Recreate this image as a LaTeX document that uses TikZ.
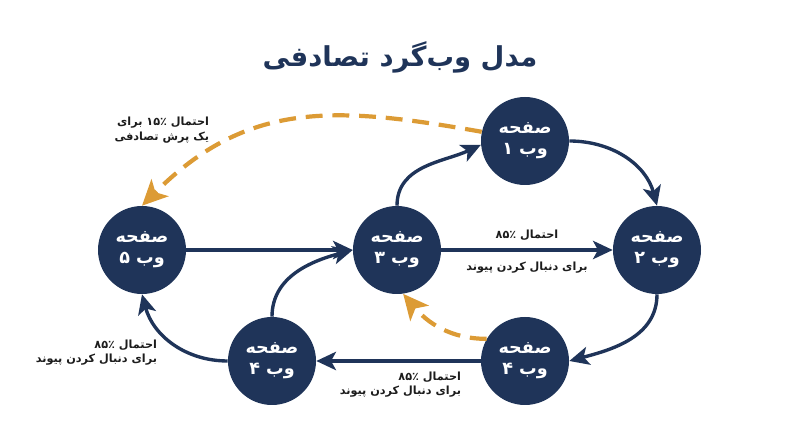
\documentclass[tikz,border=0pt]{standalone}
\usepackage{fontspec}
\usepackage{tikz}
\usetikzlibrary{arrows.meta}
\usepackage{xcolor}
\TeXXeTstate=1
\newfontfamily\farsi[Script=Arabic]{DejaVu Sans}
\newcommand{\fa}[1]{{\farsi\beginR #1\endR}}
\definecolor{navy}{HTML}{1F3459}
\definecolor{amber}{HTML}{DC9B35}
\definecolor{ink}{HTML}{1C1C1C}

\begin{document}
\begin{tikzpicture}[
  page/.style={circle, fill=navy, minimum size=2.2cm, inner sep=0pt, text=white, align=center,
    font=\farsi\bfseries\fontsize{12.5}{15}\selectfont},
  link/.style={draw=navy, line width=2.4pt, -{Stealth[length=14pt,width=13pt,inset=3.5pt]}},
  jump/.style={draw=amber, line width=3pt, dash pattern=on 12pt off 7pt,
    -{Stealth[length=18pt,width=17pt,inset=4.5pt]}},
  prob/.style={text=ink, font=\farsi\bfseries\fontsize{8}{10.5}\selectfont}
]
  \useasboundingbox (0,0) rectangle (20,11.175);

  % title
  \node[text=navy, font=\farsi\bfseries\fontsize{19.5}{24}\selectfont] (title) at (10,9.75)
    {\fa{مدل وب^^^^200cگرد تصادفی}};

  % web pages
  \node[page] (web1) at (13.125,7.65) {\fa{صفحه}\\\fa{وب ۱}};
  \node[page] (web2) at (16.425,4.925) {\fa{صفحه}\\\fa{وب ۲}};
  \node[page] (web3) at (9.925,4.925) {\fa{صفحه}\\\fa{وب ۳}};
  \node[page] (web4) at (13.125,2.15) {\fa{صفحه}\\\fa{وب ۴}};
  \node[page] (web4b) at (6.8,2.15) {\fa{صفحه}\\\fa{وب ۴}};
  \node[page] (web5) at (3.55,4.925) {\fa{صفحه}\\\fa{وب ۵}};

  % followed links
  \draw[link] (web5) -- (web3);
  \draw[link] (web3.north) to[out=90, in=205] (web1.185);
  \draw[link] (web1.east) to[out=0, in=105] (web2.north);
  \draw[link] (web3) -- node[prob, above=2pt] (p32a) {\fa{احتمال ۸۵٪}}
    node[prob, below=4pt] (p32b) {\fa{برای دنبال کردن پیوند}} (web2);
  \draw[link] (web2.south) to[out=-90, in=15] (web4.east);
  \draw[link] (web4) -- (web4b);
  \draw[link] (web4b.north) to[out=90, in=195] (web3.west);
  \draw[link] (web4b.west) to[out=180, in=-75] (web5.south);

  % random jumps
  \draw[jump] (web1.168) to[out=170, in=45, looseness=1.1] (web5.north);
  \draw[jump] (web4.150) to[out=180, in=-50] (web3.-82);

  % probability labels
  \node[prob, align=right, anchor=east] (p44) at (11.65,1.56)
    {\fa{احتمال ۸۵٪}\\\fa{برای دنبال کردن پیوند}};
  \node[prob, align=right, anchor=east] (p45) at (4.05,2.36)
    {\fa{احتمال ۸۵٪}\\\fa{برای دنبال کردن پیوند}};
  \node[prob, align=right, anchor=east] (p15) at (5.35,7.925)
    {\fa{احتمال ۱۵٪ برای}\\\fa{یک پرش تصادفی}};
\end{tikzpicture}
\end{document}
